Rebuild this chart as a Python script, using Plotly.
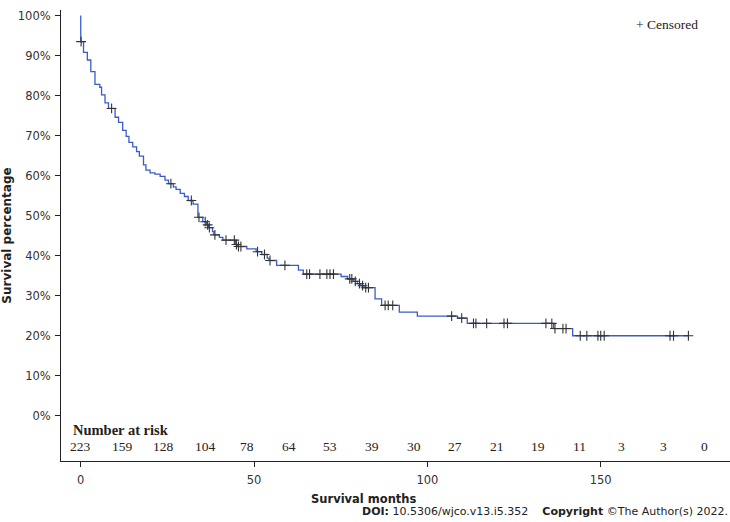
import numpy as np
import plotly.graph_objects as go

# Kaplan-Meier steps (months, survival %)
step_months = [0, 0, 0.8, 1.9, 2.9, 4.1, 5.5, 6.0, 7.0, 8.0, 9.9, 10.9, 12.1, 13.1, 13.9,
               15.0, 16.1, 16.9, 18.1, 18.8, 20.0, 21.4, 22.9, 24.3, 25.3, 26.7, 27.5,
               28.7, 29.9, 31.0, 32.4, 33.8, 35.2, 36.3, 36.9, 38.0, 38.4, 40.0, 41.0,
               44.6, 45.2, 47.9, 50.6, 52.2, 53.8, 54.3, 56.5, 62.8, 64.2, 75.1, 77.0,
               78.6, 79.8, 80.8, 81.7, 84.9, 86.8, 91.9, 97.1, 108.7, 111.5, 136.4,
               141.9, 175.3]
step_surv = [100, 93.5, 90.8, 88.9, 86.0, 82.8, 82.1, 80.2, 78.2, 76.8, 74.6, 73.3, 71.3,
             69.8, 68.3, 67.2, 66.0, 64.9, 62.7, 61.4, 60.7, 60.4, 59.8, 58.9, 58.0, 57.2,
             56.6, 55.6, 54.8, 53.8, 52.9, 49.6, 48.5, 47.7, 47.0, 46.0, 45.2, 44.6, 43.9,
             42.8, 42.3, 41.7, 41.0, 40.3, 39.4, 38.8, 37.6, 36.4, 35.4, 34.8, 34.2, 33.6,
             33.0, 32.5, 32.0, 29.2, 27.6, 25.9, 24.9, 24.4, 23.1, 21.8, 20.0, 20.0]

# censored observations (months)
censor_months = [0.1, 8.9, 26.0, 31.9, 34.1, 35.9, 36.6, 37.1, 38.7, 41.9, 44.3, 44.9,
                 45.5, 46.2, 51.0, 53.0, 54.6, 58.9, 65.2, 66.0, 69.0, 71.0, 71.9, 72.9,
                 77.6, 78.2, 79.2, 80.4, 81.3, 82.2, 83.0, 87.8, 88.7, 90.0, 107.0, 109.9,
                 113.3, 114.0, 117.1, 122.1, 123.1, 134.2, 135.9, 136.8, 139.1, 140.0,
                 144.1, 146.0, 149.2, 150.0, 151.0, 170.0, 171.0, 175.3]

risk_months = [0, 12, 24, 36, 48, 60, 72, 84, 96, 108, 120, 132, 144, 156, 168, 180]
at_risk = [223, 159, 128, 104, 78, 64, 53, 39, 30, 27, 21, 19, 11, 3, 3, 0]

y_ticks = list(range(0, 101, 10))
y_labels = [f"{v}%" for v in y_ticks]

# survival level at each censor time = last step at or before it
idx = np.searchsorted(step_months, censor_months, side="right") - 1
censor_surv = [step_surv[i] for i in idx]

sans = "DejaVu Sans"
serif = "Liberation Serif"

fig = go.Figure()
fig.add_trace(go.Scatter(x=step_months, y=step_surv, mode="lines",
                         line=dict(shape="hv", color="#3a5cc8", width=1.3),
                         hoverinfo="skip", showlegend=False))
fig.add_trace(go.Scatter(x=censor_months, y=censor_surv, mode="markers",
                         marker=dict(symbol="cross-thin", size=7,
                                     line=dict(color="#333333", width=1.1)),
                         showlegend=False))

# number at risk row
for m, n in zip(risk_months, at_risk):
    fig.add_annotation(x=m, y=-7.8, text=str(n), showarrow=False,
                       font=dict(family=serif, size=13.5, color="#222"))
fig.add_annotation(x=-2.9, y=-3.6, text="<b>Number at risk</b>", showarrow=False,
                   xanchor="left", font=dict(family=serif, size=14.5, color="#222"))

fig.add_annotation(x=0.955, xref="paper", y=0.967, yref="paper", text="+ Censored",
                   showarrow=False, xanchor="right", yanchor="middle",
                   font=dict(family=serif, size=13.5, color="#222"))

# axis title placed by hand, it sits left of the axis centre in the original
fig.add_annotation(x=(364 - 61) / 669, xref="paper", y=-38 / 451, yref="paper",
                   text="<b>Survival months</b>", showarrow=False,
                   xanchor="center", yanchor="middle",
                   font=dict(family=sans, size=11.5, color="#222"))
fig.add_annotation(x=1.0, xref="paper", y=-50 / 451, yref="paper",
                   xanchor="right", yanchor="middle",
                   text="<b>DOI:</b> 10.5306/wjco.v13.i5.352    <b>Copyright</b> ©The Author(s) 2022.",
                   showarrow=False, font=dict(family=sans, size=11, color="#222"))

fig.update_xaxes(range=[-5.7, 187.3], tickvals=[0, 50, 100, 150], ticks="outside",
                 ticklen=5, tickcolor="#222", showline=True, linecolor="#222",
                 linewidth=1, showgrid=False, zeroline=False, automargin=False,
                 ticklabelstandoff=3,
                 tickfont=dict(family=sans, size=11.5, color="#333"))
fig.update_yaxes(range=[-11.3, 101.4], tickvals=y_ticks, ticktext=y_labels,
                 ticks="outside", ticklen=5, tickcolor="#222",
                 showline=True, linecolor="#222", linewidth=1, showgrid=False,
                 zeroline=False, automargin=False, ticklabelstandoff=2,
                 tickfont=dict(family=sans, size=11.5, color="#333"),
                 title=dict(text="<b>Survival percentage</b>", standoff=8,
                            font=dict(family=sans, size=12, color="#222")))

fig.update_layout(width=730, height=522, plot_bgcolor="white", paper_bgcolor="white",
                  margin=dict(l=61, r=0, t=10, b=61))
# drop the default 8px body margin so the figure fills the window
fig.write_html("out.html", config={"displayModeBar": False},
               post_script="document.body.style.margin='0';")
